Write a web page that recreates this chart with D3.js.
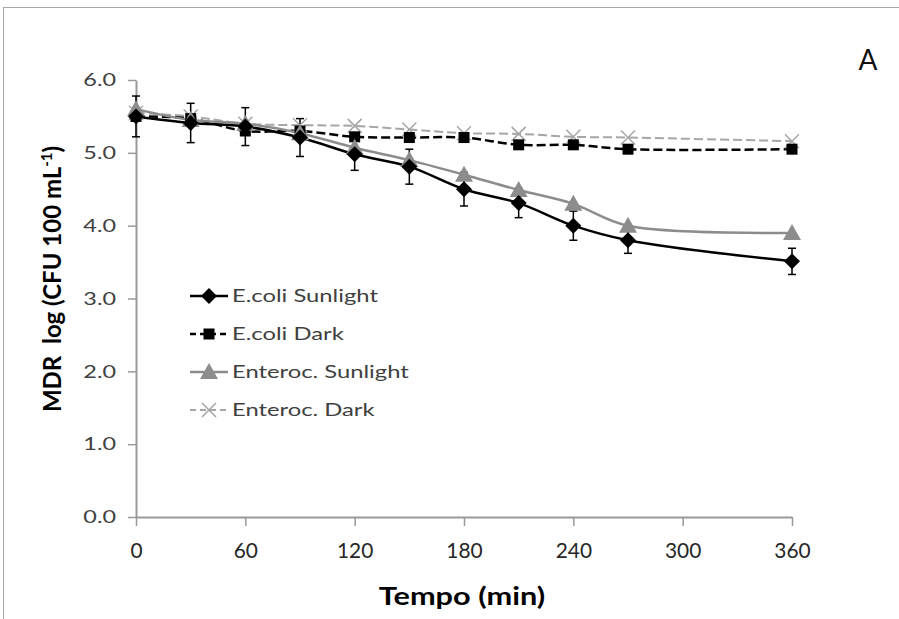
<!DOCTYPE html>
<html><head><meta charset="utf-8">
<script src="https://cdn.jsdelivr.net/npm/d3@7"></script>
<style>body{margin:0;background:#fff}svg{display:block}</style>
</head><body>
<svg id="c" width="899" height="619"></svg>
<script>
const times = [0, 30, 60, 90, 120, 150, 180, 210, 240, 270, 360];
const ecoliSun = [5.5, 5.41, 5.36, 5.21, 4.98, 4.81, 4.5, 4.31, 4.0, 3.8, 3.51];
const ecoliSunErr = [0.28, 0.27, 0.26, 0.26, 0.22, 0.24, 0.23, 0.2, 0.2, 0.18, 0.18];
const ecoliDark = [5.5, 5.47, 5.3, 5.3, 5.22, 5.21, 5.21, 5.11, 5.11, 5.05, 5.05];
const enteroSun = [5.6, 5.45, 5.4, 5.27, 5.07, 4.9, 4.7, 4.49, 4.3, 4.0, 3.9];
const enteroDark = [5.55, 5.5, 5.4, 5.38, 5.37, 5.32, 5.27, 5.26, 5.22, 5.21, 5.16];
const xTicks = [0, 60, 120, 180, 240, 300, 360];
const yTicks = [0, 1, 2, 3, 4, 5, 6];
const seriesNames = ["E.coli Sunlight", "E.coli Dark", "Enteroc. Sunlight", "Enteroc. Dark"];

const svg = d3.select("#c");
svg.append("rect").attr("x", 3.5).attr("y", 7.5).attr("width", 1000).attr("height", 1000)
  .attr("fill", "#fff").attr("stroke", "#a6a6a6").attr("stroke-width", 1);

const x = d3.scaleLinear().domain([0, 360]).range([136, 792]);
const y = d3.scaleLinear().domain([0, 6]).range([517, 80]);

// axes
const axisColor = "#999";
const gx = svg.append("g").attr("transform", "translate(0,517)")
  .call(d3.axisBottom(x).tickValues(xTicks).tickSize(9).tickPadding(16).tickSizeOuter(0));
const gy = svg.append("g").attr("transform", "translate(136,0)")
  .call(d3.axisLeft(y).tickValues(yTicks).tickSize(8).tickSizeOuter(0).tickFormat(d3.format(".1f")));
[gx, gy].forEach(g => {
  g.select(".domain").attr("stroke", axisColor).attr("stroke-width", 2);
  g.selectAll(".tick line").attr("stroke", axisColor).attr("stroke-width", 1.5);
});
gx.selectAll(".tick text").attr("font-family", "Lato, sans-serif").attr("font-size", 22)
  .attr("fill", "#262626").attr("transform", "scale(0.95,1)").attr("dy", "0.72em");
gy.selectAll(".tick text").attr("font-family", "Lato, sans-serif").attr("font-size", 18)
  .attr("fill", "#404040").attr("x", -20 / 1.3).attr("transform", "scale(1.3,1)");

// axis titles
svg.append("text").attr("transform", "translate(462,605) scale(1.28,1)")
  .attr("text-anchor", "middle").attr("font-family", "Lato, sans-serif")
  .attr("font-weight", "bold").attr("font-size", 24).attr("fill", "#000").text("Tempo (min)");
const yt = svg.append("text").attr("transform", "translate(61,279) rotate(-90)")
  .attr("text-anchor", "middle").attr("font-family", "Lato, sans-serif")
  .attr("font-weight", "bold").attr("font-size", 24).attr("fill", "#000")
  .style("white-space", "pre");
yt.append("tspan").text("MDR\u00a0\u00a0log (CFU 100 mL");
yt.append("tspan").attr("dy", -9).attr("font-size", 15).text("-1");
yt.append("tspan").attr("dy", 9).text(")");

svg.append("text").attr("x", 868).attr("y", 70).attr("text-anchor", "middle")
  .attr("font-family", "Lato, sans-serif").attr("font-size", 28).attr("fill", "#111").text("A");

// series
const series = [
  {name: seriesNames[0], vals: ecoliSun, color: "#000", dash: null, w: 2.5, marker: "diamond"},
  {name: seriesNames[1], vals: ecoliDark, color: "#000", dash: "9,4", w: 2.5, marker: "square"},
  {name: seriesNames[2], vals: enteroSun, color: "#8c8c8c", dash: null, w: 2.5, marker: "triangle"},
  {name: seriesNames[3], vals: enteroDark, color: "#a6a6a6", dash: "9,4", w: 2, marker: "cross"}
];

function drawMarker(g, type, cx, cy, color) {
  if (type === "diamond") {
    g.append("path").attr("d", `M${cx},${cy-8}L${cx+8},${cy}L${cx},${cy+8}L${cx-8},${cy}Z`).attr("fill", color);
  } else if (type === "square") {
    g.append("rect").attr("x", cx - 5.5).attr("y", cy - 5.5).attr("width", 11).attr("height", 11).attr("fill", color);
  } else if (type === "triangle") {
    g.append("path").attr("d", `M${cx},${cy-9}L${cx+9},${cy+7}L${cx-9},${cy+7}Z`).attr("fill", color);
  } else {
    g.append("path").attr("d", `M${cx-7},${cy-7}L${cx+7},${cy+7}M${cx+7},${cy-7}L${cx-7},${cy+7}`)
      .attr("stroke", color).attr("stroke-width", 1.5).attr("fill", "none");
  }
}

const line = d3.line().x(d => x(d[0])).y(d => y(d[1])).curve(d3.curveCatmullRom.alpha(0.5));
const order = [3, 1, 2, 0];
order.forEach(i => {
  const s = series[i];
  const pts = times.map((t, k) => [t, s.vals[k]]);
  svg.append("path").attr("d", line(pts)).attr("fill", "none").attr("stroke", s.color)
    .attr("stroke-width", s.w).attr("stroke-dasharray", s.dash);
});
// error bars (E.coli Sunlight)
const eb = svg.append("g").attr("stroke", "#000").attr("stroke-width", 1.5);
times.forEach((t, k) => {
  const cx = x(t), y1 = y(ecoliSun[k] + ecoliSunErr[k]), y2 = y(ecoliSun[k] - ecoliSunErr[k]);
  eb.append("line").attr("x1", cx).attr("x2", cx).attr("y1", y1).attr("y2", y2);
  eb.append("line").attr("x1", cx - 4).attr("x2", cx + 4).attr("y1", y1).attr("y2", y1);
  eb.append("line").attr("x1", cx - 4).attr("x2", cx + 4).attr("y1", y2).attr("y2", y2);
});
order.forEach(i => {
  const s = series[i];
  const g = svg.append("g");
  times.forEach((t, k) => drawMarker(g, s.marker, x(t), y(s.vals[k]), s.color));
});

// legend
const legY = [296, 334, 372, 410];
series.forEach((s, i) => {
  const g = svg.append("g");
  const ly = legY[i];
  g.append("line").attr("x1", 190).attr("x2", 228).attr("y1", ly).attr("y2", ly)
    .attr("stroke", s.color).attr("stroke-width", s.w).attr("stroke-dasharray", s.dash ? "6,4" : null);
  drawMarker(g, s.marker, 209, ly, s.color);
  g.append("text").attr("transform", `translate(232,${ly + 6}) scale(1.4,1)`)
    .attr("font-family", "Lato, sans-serif").attr("font-size", 17).attr("fill", "#404040").text(s.name);
});
</script>
</body></html>
